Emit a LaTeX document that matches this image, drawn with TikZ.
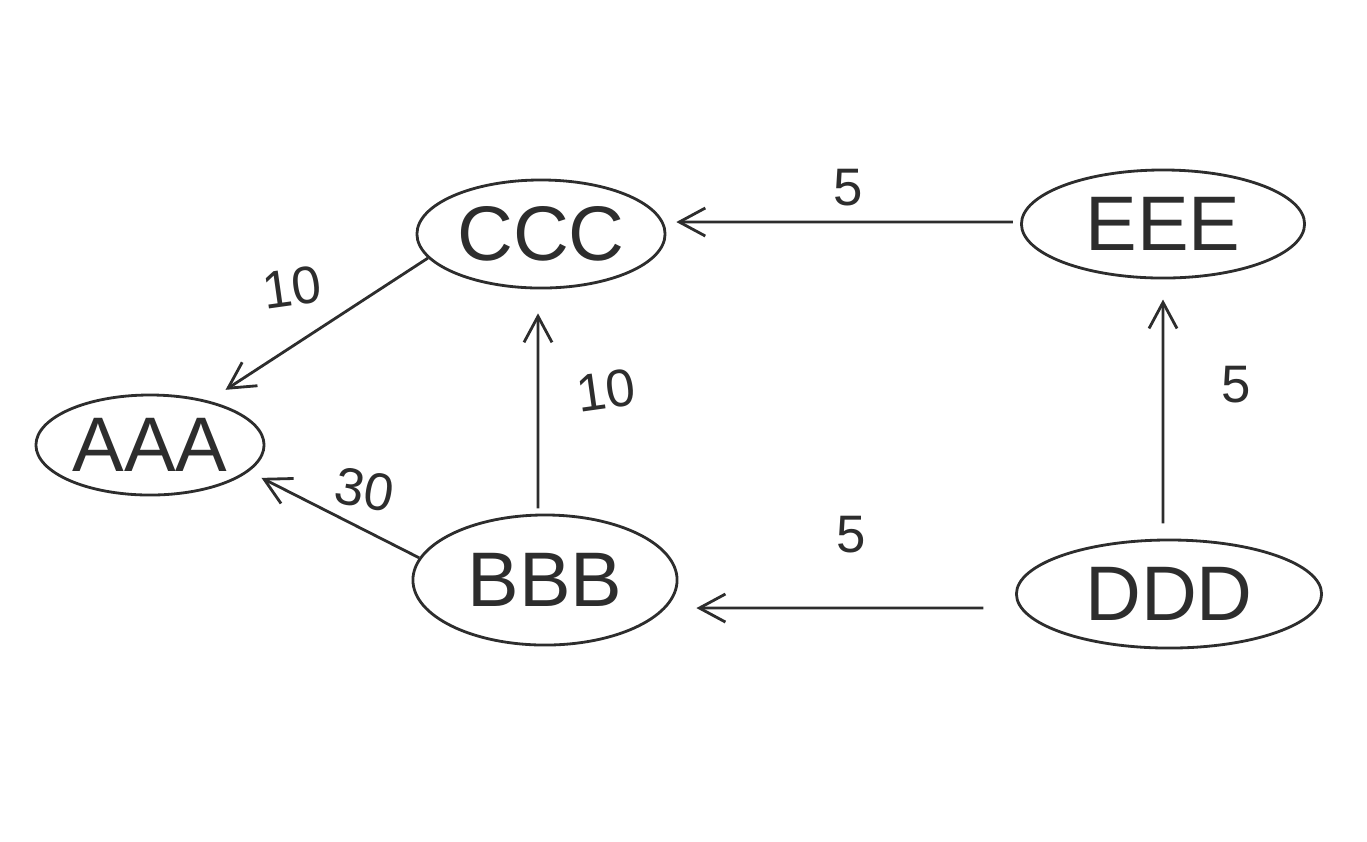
\documentclass[tikz,border=0pt]{standalone}
\usepackage{fontspec}
\setmainfont{Liberation Sans}
\usepackage{xcolor}
\usetikzlibrary{shapes.geometric, arrows.meta, positioning}
\definecolor{pencil}{RGB}{45,45,45}
\tikzset{
  state/.style={draw=pencil, ellipse, thick, inner sep=0pt, text=pencil, font=\fontsize{22}{24}\selectfont},
  arrow/.style={draw=pencil, -{Straight Barb[length=2.6mm, width=2.8mm]}, thick},
  weight/.style={text=pencil, font=\fontsize{15}{17}\selectfont}
}
\begin{document}
\begin{tikzpicture}[x=0.01cm, y=-0.01cm]
  \useasboundingbox (0,0) rectangle (1367,841);
  % states
  \node [state, minimum width=2.28cm, minimum height=1.0cm] (aaa) at (150,445) {AAA};
  \node [state, minimum width=2.48cm, minimum height=1.08cm] (ccc) at (541,234) {CCC};
  \node [state, minimum width=2.83cm, minimum height=1.08cm] (eee) at (1163,224) {EEE};
  \node [state, minimum width=2.64cm, minimum height=1.3cm] (bbb) at (545,580) {BBB};
  \node [state, minimum width=3.05cm, minimum height=1.08cm] (ddd) at (1169,594) {DDD};

  % transitions
  \draw [arrow, shorten >=5.7pt] (ccc.192) -- (aaa.37);
  \draw [arrow, shorten >=4pt] (bbb.170) -- (aaa.-15);
  \draw [arrow, shorten >=6.8pt, shorten <=1.5pt] ([xshift=-0.07cm]bbb.north) -- ([xshift=-0.03cm]ccc.south);
  \draw [arrow, shorten >=2.8pt, shorten <=2pt] ([yshift=0.02cm]eee.west) -- ([yshift=0.12cm]ccc.east);
  \draw [arrow, shorten >=5.7pt, shorten <=4.3pt] ([xshift=-0.06cm]ddd.north) -- (eee.south);
  \draw [arrow, shorten >=5.1pt, shorten <=9pt] ([yshift=-0.14cm]ddd.west) -- ([yshift=-0.28cm]bbb.east);

  % weights
  \node [weight, rotate=8] (w1) at (292,287) {10};
  \node [weight, rotate=-10] (w2) at (365,490) {30};
  \node [weight, rotate=8] (w3) at (606,390) {10};
  \node [weight] (w4) at (848,188) {5};
  \node [weight] (w5) at (1236,385) {5};
  \node [weight] (w6) at (851,535) {5};
\end{tikzpicture}
\end{document}
